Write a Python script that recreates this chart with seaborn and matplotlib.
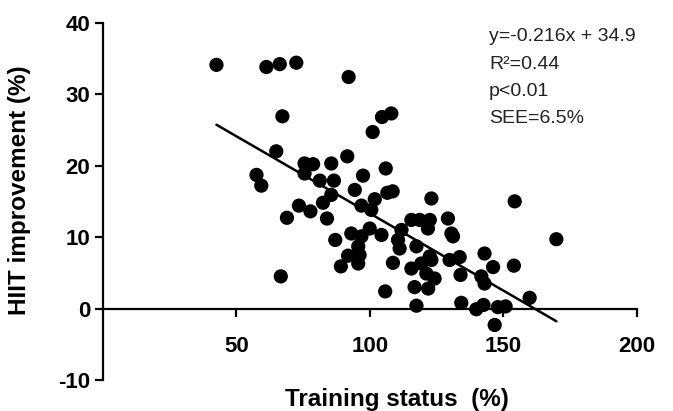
import matplotlib
matplotlib.use("Agg")
import matplotlib.pyplot as plt
import seaborn as sns
import numpy as np
import pandas as pd

# Data
training_status = [
    42.5, 61.2, 66.2, 72.4, 92.0, 67.2, 64.9, 57.5, 59.3, 75.5,
    78.7, 85.5, 91.5, 75.5, 81.2, 86.5, 85.5, 82.4, 73.4, 77.7,
    68.9, 83.9, 87.0, 93.0, 91.8, 89.1, 66.6, 94.3, 97.4, 105.9,
    106.5, 108.5, 96.8, 100.5, 101.8, 123.0, 96.8, 99.9, 104.3, 111.8,
    110.5, 111.1, 115.5, 118.6, 122.4, 121.7, 129.2, 130.5, 131.1, 117.4,
    122.4, 96.1, 95.6, 95.6, 108.6, 115.5, 119.2, 123.0, 121.1, 124.2,
    116.7, 121.8, 105.7, 129.8, 133.6, 133.9, 142.9, 146.1, 141.7, 142.9,
    153.9, 154.2, 169.8, 159.8, 117.4, 134.2, 139.8, 142.5, 147.9, 150.8,
    146.7, 101.0, 104.5, 108.0,
]
hiit_improvement = [
    34.1, 33.8, 34.2, 34.4, 32.4, 26.9, 22.0, 18.7, 17.2, 20.3,
    20.2, 20.3, 21.3, 18.9, 17.9, 17.9, 15.9, 14.8, 14.4, 13.6,
    12.7, 12.6, 9.6, 10.5, 7.4, 5.9, 4.5, 16.6, 18.6, 19.6,
    16.2, 16.4, 14.4, 13.8, 15.3, 15.4, 10.1, 11.2, 10.3, 11.0,
    9.6, 8.4, 12.4, 12.4, 12.4, 11.2, 12.6, 10.5, 10.1, 8.7,
    7.3, 7.5, 6.3, 8.7, 6.4, 5.6, 6.3, 6.8, 4.9, 4.2,
    3.0, 2.8, 2.4, 6.8, 7.2, 4.7, 7.7, 5.8, 4.5, 3.5,
    6.0, 15.0, 9.7, 1.5, 0.4, 0.8, -0.1, 0.5, 0.2, 0.3,
    -2.3, 24.7, 26.8, 27.3,
]
fit_slope = -0.216
fit_intercept = 34.9
x_ticks = [50, 100, 150, 200]
y_ticks = [-10, 0, 10, 20, 30, 40]
stats_lines = ["y=-0.216x + 34.9", "R\u00b2=0.44", "p<0.01", "SEE=6.5%"]

df = pd.DataFrame({"Training status": training_status,
                   "HIIT improvement": hiit_improvement})

sns.set_style("ticks")
plt.rcParams["font.family"] = ["Liberation Sans", "DejaVu Sans"]
plt.rcParams["axes.unicode_minus"] = False

fig = plt.figure(figsize=(6.73, 4.11), dpi=100)
ax = fig.add_axes([0.153, 0.0754, 0.7935, 0.8694])

sns.scatterplot(data=df, x="Training status", y="HIIT improvement", ax=ax,
                color="black", s=105, edgecolor="none", zorder=3)

# regression line over the data range
xl = np.array([min(training_status), max(training_status)])
ax.plot(xl, fit_slope * xl + fit_intercept, color="black", lw=1.8, zorder=2)

ax.set_xlim(0, 200)
ax.set_ylim(-10, 40)
ax.set_xticks(x_ticks)
ax.set_yticks(y_ticks)

for s in ["top", "right"]:
    ax.spines[s].set_visible(False)
ax.spines["bottom"].set_position(("data", 0))
for s in ["left", "bottom"]:
    ax.spines[s].set_linewidth(1.6)
    ax.spines[s].set_color("black")

ax.tick_params(axis="both", width=1.6, length=6, colors="black",
               labelsize=16)
ax.tick_params(axis="x", pad=14)
ax.tick_params(axis="y", pad=3)
for lab in ax.get_xticklabels() + ax.get_yticklabels():
    lab.set_fontweight("bold")

ax.set_xlabel("Training status  (%)", fontsize=17.5, fontweight="bold",
              color="black")
ax.set_ylabel("HIIT improvement (%)", fontsize=17.5, fontweight="bold",
              color="black")
ax.xaxis.set_label_coords(0.55, -0.022)
ax.yaxis.set_label_coords(-0.135, 0.53)

for i, t in enumerate(stats_lines):
    ax.text(0.723, 0.96 - i * 0.076, t, transform=ax.transAxes,
            fontsize=14, color="#222222", va="center", ha="left")

fig.savefig("out.png", dpi=100)
